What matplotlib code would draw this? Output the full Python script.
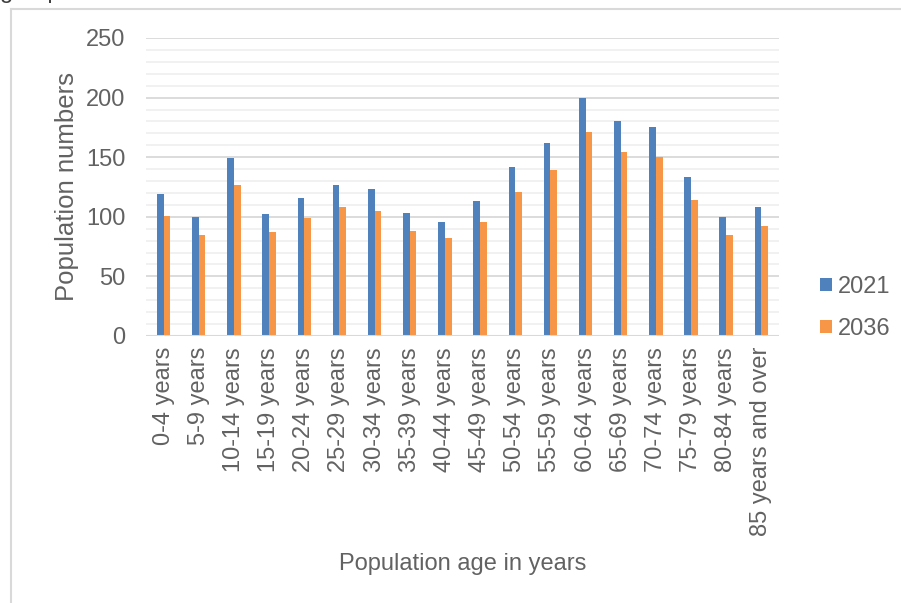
import matplotlib.pyplot as plt
import numpy as np
from matplotlib.lines import Line2D

plt.rcParams['font.family'] = ['Liberation Sans', 'DejaVu Sans']

age_groups = ['0-4 years', '5-9 years', '10-14 years', '15-19 years', '20-24 years',
              '25-29 years', '30-34 years', '35-39 years', '40-44 years', '45-49 years',
              '50-54 years', '55-59 years', '60-64 years', '65-69 years', '70-74 years',
              '75-79 years', '80-84 years', '85 years and over']
pop_2021 = [119, 100, 149, 102, 116, 127, 123, 103, 96, 113, 142, 162, 200, 180, 175, 133, 100, 108]
pop_2036 = [101, 85, 127, 87, 99, 108, 105, 88, 82, 96, 121, 139, 171, 154, 150, 114, 85, 92]

blue = '#4f81bd'
orange = '#f79646'
text_col = '#626262'

fig = plt.figure(figsize=(9.01, 6.03), dpi=100)
ax = fig.add_axes([0.162, 0.4428, 0.7025, 0.4942])

x = np.arange(len(age_groups))
w = 0.19
ax.bar(x - w / 2, pop_2021, w, color=blue, label='2021', zorder=3)
ax.bar(x + w / 2, pop_2036, w, color=orange, label='2036', zorder=3)

ax.set_xlim(-0.5, len(age_groups) - 0.5)
ax.set_ylim(0, 250)
ax.set_yticks(np.arange(0, 251, 50))
ax.set_yticks(np.arange(0, 251, 10), minor=True)
ax.grid(axis='y', which='major', color='#d9d9d9', lw=1.3, zorder=1)
ax.grid(axis='y', which='minor', color='#f0f0f0', lw=1.3, zorder=0)
ax.axhline(0, color='#d9d9d9', lw=1.5, zorder=4)
for s in ax.spines.values():
    s.set_visible(False)

ax.set_xticks(x)
ax.set_xticklabels(age_groups, rotation=90, fontsize=17, color=text_col)
ax.tick_params(axis='both', which='both', length=0)
ax.tick_params(axis='x', pad=8)
ax.tick_params(axis='y', pad=15, labelsize=17, labelcolor=text_col)

ax.set_ylabel('Population numbers', fontsize=18.5, color=text_col, labelpad=5)
ax.set_xlabel('Population age in years', fontsize=17, color=text_col, labelpad=12)

leg = ax.legend(loc='center left', bbox_to_anchor=(1.05, 0.094), frameon=False,
                borderaxespad=0, fontsize=17, handlelength=0.5, handleheight=0.5,
                handletextpad=0.25, labelspacing=0.85, labelcolor=text_col)

# frame edge of the surrounding chart box
fig.add_artist(Line2D([11 / 901, 11 / 901], [0, 1 - 9 / 603], color='#d9d9d9', lw=1.5,
                      transform=fig.transFigure))
fig.add_artist(Line2D([11 / 901, 1], [1 - 9 / 603, 1 - 9 / 603], color='#d9d9d9', lw=1.5,
                      transform=fig.transFigure))
fig.text(0.0, 1 + 2 / 603, 'group', fontsize=17, color='#404040', va='baseline', ha='left')

fig.savefig('out.png', dpi=100)
